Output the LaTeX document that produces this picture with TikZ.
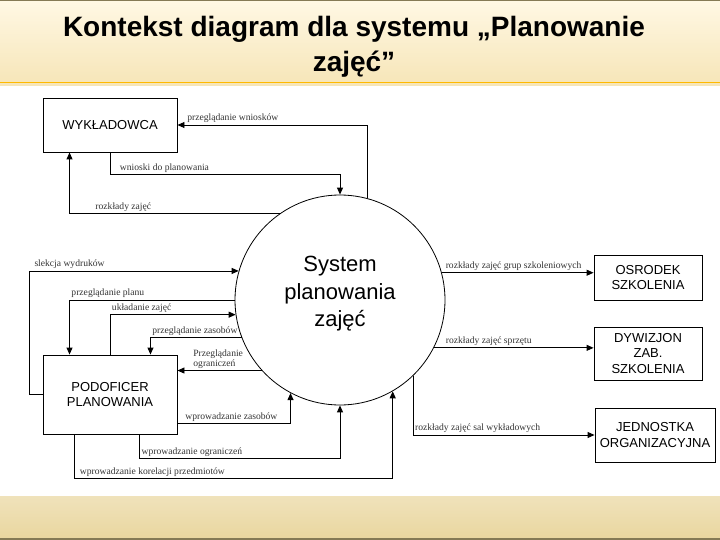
\documentclass[tikz,border=0pt]{standalone}
\usepackage{fontspec}
\setmainfont{Liberation Sans}
\newfontfamily\lblfont{Liberation Serif}
\usetikzlibrary{arrows.meta, calc}

\definecolor{bandtop}{HTML}{FFF8E4}
\definecolor{bandbot}{HTML}{F6E5B7}
\definecolor{footband}{HTML}{E9D69E}
\definecolor{rimline}{HTML}{857A55}

\begin{document}
\begin{tikzpicture}[x=1pt, y=-1pt, >=Stealth,
    box/.style={draw, line width=0.9pt, align=center, inner sep=2pt, font=\fontsize{13}{15.5}\selectfont},
    flow/.style={line width=0.9pt, -{Triangle[length=7pt,width=6pt]}},
    lbl/.style={font=\lblfont\fontsize{9.6}{10.5}\selectfont, text=black!80, inner sep=1.5pt, align=left}]
  \useasboundingbox (0,0) rectangle (720,540);
  % tlo slajdu
  \fill[top color=bandtop, bottom color=bandbot] (0,0) rectangle (720,86);
  \draw[orange!55!yellow, line width=1pt] (0,83) -- (720,83);
  \fill[top color=footband!70!white, bottom color=footband] (0,496) rectangle (720,540);
  \draw[rimline, line width=1.2pt] (0,0.6) -- (720,0.6);
  \draw[rimline, line width=2pt] (0,539) -- (720,539);

  \node[font=\bfseries\fontsize{28}{35}\selectfont, align=center] (title) at (354,47)
    {Kontekst diagram dla systemu „Planowanie\\zajęć”};

  % system
  \node[draw, circle, line width=0.8pt, minimum size=210pt, inner sep=0pt] (sys) at (340,300) {};
  \node[font=\fontsize{22}{27.5}\selectfont, align=center] (systxt) at (340,294) {System\\planowania\\zajęć};

  % terminatory
  \node[box, minimum width=134pt, minimum height=54pt] (wyk) at (110,125) {WYKŁADOWCA};
  \node[box, minimum width=134pt, minimum height=79pt] (pod) at (110,394.5) {PODOFICER\\PLANOWANIA};
  \node[box, minimum width=108pt, minimum height=45pt] (osr) at (648,277.5) {OSRODEK\\SZKOLENIA};
  \node[box, minimum width=108pt, minimum height=53pt] (dyw) at (648,353.5) {DYWIZJON\\ZAB.\\SZKOLENIA};
  \node[box, minimum width=120pt, minimum height=54pt] (jed) at (655,435) {JEDNOSTKA\\ORGANIZACYJNA};

  % przeplywy - wykladowca
  \draw[flow] (sys.75) |- (wyk.east)
    node[lbl, pos=1, anchor=south west, xshift=8pt] {przeglądanie wniosków};
  \draw[flow] (wyk.south) -- ++(0,22)
    node[lbl, anchor=south west, xshift=8pt] {wnioski do planowania} -| (sys.north);
  \draw[flow] (sys.125) -| ($(wyk.south west)!0.2!(wyk.south east)$)
    node[lbl, pos=0.5, anchor=south west, xshift=24pt] {rozkłady zajęć};

  % przeplywy - podoficer
  \draw[flow] (pod.west) -- ++(-13,0) |- (sys.164.5)
    node[lbl, pos=0.5, anchor=south west, xshift=3pt] {slekcja wydruków};
  \draw[flow] (sys.west) -| ($(pod.north west)!0.2!(pod.north east)$)
    node[lbl, pos=0.5, anchor=south west] {przeglądanie planu};
  \draw[flow] (pod.north) |- (sys.188.8)
    node[lbl, pos=0.5, anchor=south west] {układanie zajęć};
  \draw[flow] (sys.201.2) -| ($(pod.north west)!0.8!(pod.north east)$)
    node[lbl, pos=0.5, anchor=south west] {przeglądanie zasobów};
  \draw[flow] (sys.222.5) -- (sys.222.5 -| pod.east)
    node[lbl, pos=1, anchor=south west, xshift=14pt] {Przeglądanie\\ograniczeń};
  \draw[flow] ($(pod.north east)!0.86!(pod.south east)$) -| (sys.242)
    node[lbl, pos=0, anchor=south west, xshift=6pt] {wprowadzanie zasobów};
  \draw[flow] ($(pod.south west)!0.72!(pod.south east)$) -- ++(0,24)
    node[lbl, anchor=south west] {wprowadzanie ograniczeń} -| (sys.south);
  \draw[flow] ($(pod.south west)!0.24!(pod.south east)$) -- ++(0,44)
    node[lbl, anchor=south west, xshift=3pt] {wprowadzanie korelacji przedmiotów} -| (sys.300.3);

  % przeplywy - odbiorcy
  \draw[flow] (sys.15) -- (sys.15 -| osr.west)
    node[lbl, pos=0, anchor=south west, xshift=2pt] {rozkłady zajęć grup szkoleniowych};
  \draw[flow] (sys.333.4) -- (sys.333.4 -| dyw.west)
    node[lbl, pos=0, anchor=south west, xshift=10pt] {rozkłady zajęć sprzętu};
  \draw[flow] (sys.314.8) |- (jed.west)
    node[lbl, pos=0.5, anchor=south west] {rozkłady zajęć sal wykładowych};
\end{tikzpicture}
\end{document}
